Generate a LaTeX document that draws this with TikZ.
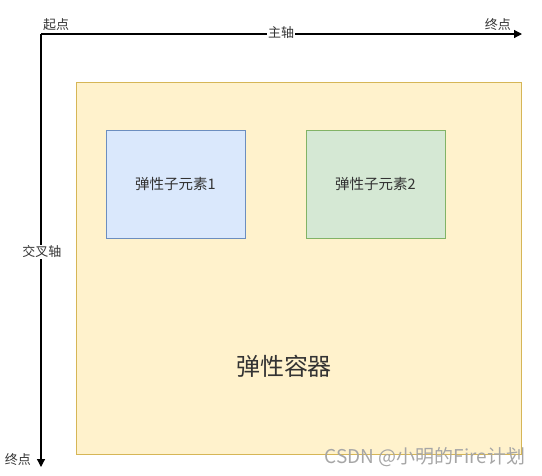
\documentclass[tikz,border=0pt]{standalone}
\usepackage{fontspec}
\setmainfont{Noto Sans CJK SC}
\usetikzlibrary{arrows.meta}
\definecolor{contfill}{HTML}{FFF2CC}
\definecolor{contdraw}{HTML}{D6B656}
\definecolor{bluefill}{HTML}{DAE8FC}
\definecolor{bluedraw}{HTML}{6C8EBF}
\definecolor{greenfill}{HTML}{D5E8D4}
\definecolor{greendraw}{HTML}{82B366}
\definecolor{txt}{HTML}{333333}
\tikzset{
  axis/.style={line width=1.2pt, -{Triangle[length=8pt,width=8pt]}},
  lbl/.style={font=\fontsize{13}{15}\selectfont, text=txt, inner sep=1pt},
  onaxis/.style={lbl, fill=white, inner sep=1pt},
  child/.style={draw, line width=0.9pt, minimum width=139pt, minimum height=108pt, font=\fontsize{14.5}{17}\selectfont, text=txt, inner sep=0pt},
}
\begin{document}
\begin{tikzpicture}[x=1pt,y=-1pt]
\useasboundingbox (0,0) rectangle (542,475);
% container
\node[draw=contdraw, fill=contfill, line width=0.9pt, minimum width=445pt, minimum height=372pt, inner sep=0pt] (cont) at (298.5,268) {};
\node[font=\fontsize{24}{28}\selectfont, text=txt] (conttxt) at (284,366) {弹性容器};
\node[child, fill=bluefill, draw=bluedraw] (c1) at (175.5,184) {弹性子元素1};
\node[child, fill=greenfill, draw=greendraw] (c2) at (375.5,184) {弹性子元素2};
% axes
\coordinate (o) at (41,34);
\coordinate (xe) at (522,34);
\coordinate (ye) at (41,467);
\draw[axis] (o) -- (xe);
\draw[axis] (o) -- (ye);
\node[onaxis] (main) at (281,33) {主轴};
\node[onaxis] (cross) at (42,252) {交叉轴};
\node[lbl, anchor=south west] (start) at (42,32) {起点};
\node[lbl, anchor=south east] (end1) at (512,32) {终点};
\node[lbl, anchor=east] (end2) at (32,460) {终点};
\node[font=\fontsize{19}{22}\selectfont, text=black!35] (wm) at (425,457) {CSDN @小明的Fire计划};
\end{tikzpicture}
\end{document}
